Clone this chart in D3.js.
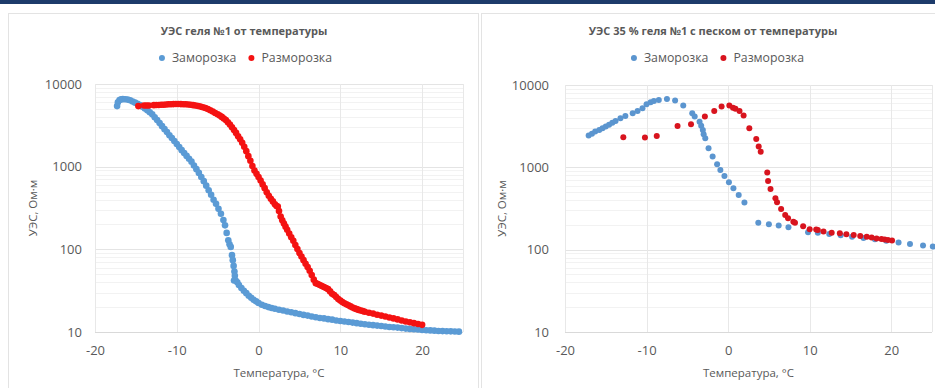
<!DOCTYPE html>
<html><head><meta charset="utf-8">
<script src="https://cdn.jsdelivr.net/npm/d3@7"></script>
<style>
html,body{margin:0;padding:0;background:#fff;}
svg{display:block;}
text{font-family:"Open Sans",sans-serif;fill:#595959;}
</style></head>
<body><svg id="c" width="935" height="388"></svg>
<script>
// ---- data ----
const xTicks = [-20, -10, 0, 10, 20];
const yTicks = [10, 100, 1000, 10000];
const seriesNames = ["Заморозка", "Разморозка"];
const titles = ["УЭС геля №1 от температуры", "УЭС 35 % геля №1 с песком от температуры"];
const xTitle = "Температура, °C";
const yTitle = "УЭС, Ом·м";

// gel #1, freezing: [T, resistivity]
const gelFreeze = [
[-17.3,5400],[-17.2,6000],[-17.0,6400],[-16.8,6550],[-16.6,6560],[-16.3,6550],[-16.0,6480],[-15.7,6350],
[-15.4,6150],[-15.1,5950],[-14.8,5750],[-14.5,5550],[-14.2,5300],[-13.9,5050],[-13.6,4800],[-13.3,4550],
[-13.0,4300],[-12.7,3950],[-12.4,3660],[-12.1,3365],[-11.8,3090],[-11.5,2845],[-11.2,2620],[-10.9,2400],
[-10.6,2215],[-10.3,2040],[-10.0,1875],[-9.7,1725],[-9.4,1585],[-9.1,1460],[-8.8,1350],[-8.5,1245],
[-8.2,1150],[-7.9,1035],[-7.6,933],[-7.3,841],[-7.0,750],[-6.7,668],[-6.4,589],[-6.1,519],[-5.8,457],
[-5.5,398],[-5.2,355],[-4.9,309],[-4.6,269],[-4.3,226],[-4.1,195],[-3.9,158],[-3.7,129],[-3.55,115],
[-3.4,107],[-3.25,85],[-3.15,74],[-3.05,63],[-2.95,54],[-2.9,48],[-3.0,42],[-2.8,42],[-2.6,40],
[-2.4,37],[-2.1,34],[-1.8,31.5],[-1.5,29.5],[-1.2,27.5],[-0.9,26],[-0.6,24.5],[-0.3,23.5],[0.0,22.4],
[0.4,21.4],[0.8,20.6],[1.2,20],[1.6,19.5],[2.0,19.1],[2.5,18.6],[3.0,18.2],[3.5,17.7],[4.0,17.3],
[4.5,16.9],[5.0,16.5],[5.5,16.1],[6.0,15.8],[6.5,15.4],[7.0,15.1],[7.5,14.8],[8.0,14.6],[8.5,14.3],
[9.0,14.1],[9.5,13.8],[10.0,13.6],[10.5,13.4],[11.0,13.2],[11.5,13.0],[12.0,12.8],[12.5,12.6],
[13.0,12.4],[13.5,12.25],[14.0,12.1],[14.5,11.95],[15.0,11.8],[15.5,11.65],[16.0,11.5],[16.5,11.4],
[17.0,11.3],[17.5,11.15],[18.0,11.0],[18.5,10.9],[19.0,10.8],[19.5,10.7],[20.0,10.6],[20.5,10.5],
[21.0,10.45],[21.5,10.38],[22.0,10.3],[22.5,10.25],[23.0,10.2],[23.5,10.18],[24.0,10.15],[24.5,10.1]
];
// gel #1, thawing
const gelThaw = [
[-14.7,5400],[-14.0,5500],[-13.7,5500],[-13.4,5500],[-12.8,5550],[-12.5,5560],[-12.2,5580],[-11.9,5600],
[-11.6,5620],[-11.3,5650],[-11.0,5680],[-10.7,5700],[-10.4,5710],[-10.1,5720],[-9.8,5720],[-9.5,5710],
[-9.2,5700],[-8.9,5680],[-8.6,5650],[-8.3,5600],[-8.0,5550],[-7.7,5500],[-7.4,5420],[-7.1,5330],
[-6.8,5230],[-6.5,5120],[-6.2,4980],[-5.9,4820],[-5.6,4650],[-5.3,4450],[-5.0,4300],[-4.75,4150],
[-4.5,4000],[-4.25,3820],[-4.0,3660],[-3.75,3450],[-3.5,3230],[-3.25,3000],[-3.0,2770],[-2.75,2560],
[-2.5,2330],[-2.25,2150],[-2.0,1950],[-1.75,1740],[-1.5,1540],[-1.25,1340],[-1.0,1180],[-0.75,1020],
[-0.5,900],[-0.25,820],[0.0,750],[0.25,680],[0.5,610],[0.75,550],[1.0,490],[1.25,445],[1.5,410],
[1.75,380],[2.0,350],[2.2,335],[2.35,330],[2.5,290],[2.7,250],[2.9,225],[3.1,205],[3.3,188],[3.5,172],
[3.75,155],[4.0,140],[4.25,127],[4.5,113],[4.75,101],[5.0,90],[5.25,82],[5.5,74],[5.75,67],[6.0,61],
[6.25,55],[6.5,49],[6.75,43],[7.0,39],[7.25,38],[7.5,37],[7.75,36],[8.0,35],[8.25,34],[8.5,33],
[8.75,31],[9.0,29],[9.25,28],[9.5,26.5],[9.75,25],[10.0,24],[10.25,23],[10.5,22.3],[10.75,21.6],
[11.0,21],[11.25,20.4],[11.5,19.8],[11.75,19.3],[12.0,18.9],[12.25,18.5],[12.5,18.2],[12.75,17.9],
[13.0,17.6],[13.5,17.1],[14.0,16.7],[14.5,16.2],[15.0,15.8],[15.5,15.4],[16.0,15.0],[16.5,14.6],
[17.0,14.2],[17.5,13.8],[18.0,13.4],[18.5,13.1],[19.0,12.8],[19.5,12.5],[20.0,12.2]
];
// 35 % gel with sand, freezing
const sandFreeze = [
[-17.1,2430],[-16.7,2550],[-16.3,2720],[-15.8,2850],[-15.4,2990],[-15.0,3130],[-14.6,3280],[-14.2,3490],
[-13.8,3660],[-13.2,3950],[-12.6,4210],[-11.7,4540],[-11.1,4840],[-10.5,5220],[-10.0,5840],[-9.5,6180],
[-9.1,6410],[-8.5,6590],[-7.5,6780],[-6.5,6460],[-5.5,5620],[-4.4,4540],[-4.1,4130],[-3.5,3590],
[-3.3,3210],[-3.1,2850],[-3.0,2520],[-2.8,2260],[-2.4,1710],[-1.9,1350],[-1.35,1090],[-0.95,930],
[-0.45,785],[0.1,659],[0.65,557],[1.3,462],[2.0,373],[3.7,213],[5.0,204],[6.2,196],[7.4,187],
[9.8,163],[11.0,160],[12.4,155],[13.8,150],[15.2,144],[16.6,139],[18.0,134],[19.4,128],[20.9,122],
[22.3,117],[23.9,112],[25.1,109]
];
// 35 % gel with sand, thawing
const sandThaw = [
[-12.85,2320],[-10.2,2300],[-8.75,2410],[-6.2,3180],[-4.55,3340],[-2.85,4130],[-1.7,4840],[-0.8,5470],
[0.15,5620],[0.6,5310],[0.9,5130],[1.4,4840],[1.9,4250],[2.6,2980],[3.45,2210],[3.75,1790],[4.0,1550],
[4.8,863],[4.9,684],[5.2,547],[5.8,421],[6.0,377],[6.5,312],[7.0,264],[7.35,241],[8.0,219],[8.2,212],
[9.2,192],[10.0,177],[10.8,176],[11.0,173],[11.7,166],[12.7,161],[13.7,158],[14.5,154],[15.4,151],
[16.2,147],[17.0,144],[17.6,141],[18.2,137],[18.8,135],[19.2,133],[19.6,131],[20.1,129]
];

// ---- drawing ----
const svg = d3.select("#c");
svg.append("rect").attr("x",0).attr("y",0).attr("width",935).attr("height",4).attr("fill","#1d3b6b");

const panels = [
  {box:[8,13,478], plot:[95,463], y:[332,84], title:titles[0], tcx:244, lcx:246, ylx:33,
   freeze:gelFreeze, thaw:gelThaw, blue:"#5b9bd5", red:"#f41212", r:3.3, tickGap:13},
  {box:[481,13,960], plot:[565,932], y:[332,85], title:titles[1], tcx:713, lcx:718, ylx:502,
   freeze:sandFreeze, thaw:sandThaw, blue:"#5b95cf", red:"#d8141e", r:3.0, tickGap:16}
];
const fmt = d => String(d);

panels.forEach(p => {
  const g = svg.append("g");
  g.append("rect").attr("x",p.box[0]+0.5).attr("y",p.box[1]+0.5)
    .attr("width",p.box[2]-p.box[0]).attr("height",400)
    .attr("fill","#fff").attr("stroke","#e3e3e3");

  const x = d3.scaleLinear().domain([-20,25]).range(p.plot);
  const y = d3.scaleLog().domain([10,10000]).range(p.y);

  // minor horizontal gridlines
  const minor = [];
  [10,100,1000].forEach(d => { for (let k=2;k<=9;k++) minor.push(d*k); });
  g.append("g").selectAll("line").data(minor).join("line")
    .attr("x1",p.plot[0]).attr("x2",p.plot[1])
    .attr("y1",d=>Math.round(y(d))+0.5).attr("y2",d=>Math.round(y(d))+0.5)
    .attr("stroke","#f2f2f2");
  // major gridlines
  g.append("g").selectAll("line").data(yTicks).join("line")
    .attr("x1",p.plot[0]).attr("x2",p.plot[1])
    .attr("y1",d=>Math.round(y(d))+0.5).attr("y2",d=>Math.round(y(d))+0.5)
    .attr("stroke",d=>d===10?"#d9d9d9":"#e4e4e4");
  g.append("g").selectAll("line").data(xTicks.concat([25])).join("line")
    .attr("x1",d=>Math.round(x(d))+0.5).attr("x2",d=>Math.round(x(d))+0.5)
    .attr("y1",p.y[1]).attr("y2",p.y[0])
    .attr("stroke","#e8e8e8");

  // axes via d3 axis, styled like Excel
  const xa = g.append("g").attr("transform",`translate(0,${p.y[0]})`)
    .call(d3.axisBottom(x).tickValues(xTicks).tickSize(0).tickPadding(14).tickFormat(fmt));
  xa.select(".domain").remove();
  xa.selectAll("text").attr("font-size",13).attr("fill","#666").attr("font-family","Open Sans, sans-serif");

  const ya = g.append("g").attr("transform",`translate(${p.plot[0]},0)`)
    .call(d3.axisLeft(y).tickValues(yTicks).tickSize(0).tickPadding(p.tickGap).tickFormat(fmt));
  ya.select(".domain").remove();
  ya.selectAll("text").attr("font-size",13).attr("fill","#666").attr("font-family","Open Sans, sans-serif");

  // series
  g.append("g").selectAll("circle").data(p.freeze).join("circle")
    .attr("cx",d=>x(d[0])).attr("cy",d=>y(d[1])).attr("r",p.r).attr("fill",p.blue);
  g.append("g").selectAll("circle").data(p.thaw).join("circle")
    .attr("cx",d=>x(d[0])).attr("cy",d=>y(d[1])).attr("r",p.r).attr("fill",p.red);

  // title
  g.append("text").attr("x",p.tcx).attr("y",35).attr("text-anchor","middle")
    .attr("font-size",11).attr("font-weight","bold").text(p.title);

  // legend
  const lg = g.append("g");
  const t1 = lg.append("text").attr("y",62).attr("font-size",12.3).attr("fill","#666").text(seriesNames[0]);
  const t2 = lg.append("text").attr("y",62).attr("font-size",12.3).attr("fill","#666").text(seriesNames[1]);
  const w1 = t1.node().getComputedTextLength(), w2 = t2.node().getComputedTextLength();
  const total = 12 + w1 + 13 + 12 + w2;
  const sx = p.lcx - total/2;
  lg.append("circle").attr("cx",sx+2).attr("cy",58).attr("r",3).attr("fill",p.blue);
  t1.attr("x",sx+12);
  lg.append("circle").attr("cx",sx+12+w1+13+2).attr("cy",58).attr("r",3).attr("fill",p.red);
  t2.attr("x",sx+12+w1+13+12);

  // axis titles
  g.append("text").attr("x",(p.plot[0]+p.plot[1])/2).attr("y",377)
    .attr("text-anchor","middle").attr("font-size",11.5).attr("fill","#666").text(xTitle);
  g.append("text").attr("transform",`translate(${p.ylx+4},${(p.y[0]+p.y[1])/2}) rotate(-90)`)
    .attr("text-anchor","middle").attr("font-size",11.5).attr("fill","#666").text(yTitle);
});
</script></body></html>
